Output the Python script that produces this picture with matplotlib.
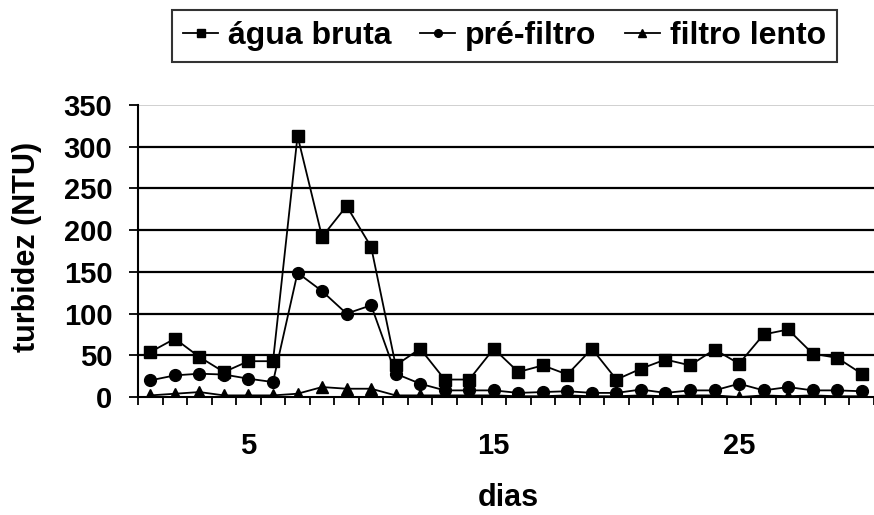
import matplotlib
matplotlib.use("Agg")
import matplotlib.pyplot as plt

days = list(range(1, 31))
agua_bruta = [54, 70, 48, 30, 43, 43, 313, 192, 229, 180,
              38, 58, 21, 21, 58, 30, 38, 27, 58, 21,
              34, 45, 38, 57, 40, 75, 81, 52, 47, 28]
pre_filtro = [20, 26, 28, 27, 22, 18, 149, 127, 100, 110,
              28, 16, 8, 8, 8, 5, 6, 7, 5, 5,
              9, 5, 8, 8, 16, 8, 12, 8, 8, 7]
filtro_lento = [2, 4, 6, 2, 2, 2, 4, 12, 10, 10,
                2, 2, 2, 2, 2, 1, 1, 2, 1, 1,
                2, 1, 2, 2, 0, 2, 1, 2, 1, 1]
series_names = ["água bruta", "pré-filtro", "filtro lento"]
yticks = [0, 50, 100, 150, 200, 250, 300, 350]
xtick_labels = [5, 15, 25]

plt.rcParams['font.family'] = ['Liberation Sans', 'DejaVu Sans']
plt.rcParams['font.weight'] = 'bold'

FS = 21

fig = plt.figure(figsize=(8.74, 5.15), dpi=100)
ax = fig.add_axes([0.158, 0.229, 0.842, 0.567])

for yv in yticks[1:-1]:
    ax.axhline(yv, color='black', lw=1.6, zorder=1)
ax.axhline(yticks[-1], color='#c8c8c8', lw=1.2, zorder=1)

kw = dict(color='black', lw=1.3, markersize=8.5, zorder=3)
ax.plot(days, agua_bruta, marker='s', label=series_names[0], **kw)
ax.plot(days, pre_filtro, marker='o', label=series_names[1], **kw)
ax.plot(days, filtro_lento, marker='^', label=series_names[2], **kw)

ax.set_xlim(0.5, 30.5)
ax.set_ylim(0, 350)
ax.set_yticks(yticks)
ax.set_xticks([d + 0.5 for d in range(0, 31)], minor=False)
ax.set_xticklabels([])
ax.set_xticks(xtick_labels, minor=True)
ax.set_xticklabels([str(v) for v in xtick_labels], minor=True)
ax.tick_params(axis='x', which='major', length=6, width=1.3, direction='out')
ax.tick_params(axis='x', which='minor', length=0, pad=25, labelsize=FS)
ax.tick_params(axis='y', length=6.5, width=1.3, labelsize=FS, pad=12)
for lbl in ax.get_yticklabels() + ax.get_xticklabels(minor=True):
    lbl.set_fontweight('bold')

for s in ['top', 'right']:
    ax.spines[s].set_visible(False)
for s in ['left', 'bottom']:
    ax.spines[s].set_linewidth(1.5)

ax.set_ylabel('turbidez (NTU)', fontsize=FS + 1, fontweight='bold')
ax.yaxis.set_label_coords(-0.13, 0.515)
ax.set_xlabel('dias', fontsize=FS + 1, fontweight='bold')
ax.xaxis.set_label_coords(0.503, -0.295)

leg = fig.legend(loc='upper center', bbox_to_anchor=(0.577, 0.981), ncol=3,
                 frameon=True, fancybox=False, edgecolor='black',
                 prop={'size': 23, 'weight': 'bold'}, handlelength=1.1,
                 handletextpad=0.3, columnspacing=0.9, borderpad=0.35,
                 borderaxespad=0.0, markerscale=0.65)
leg.get_frame().set_linewidth(1.5)

fig.savefig('out.png', dpi=100)
